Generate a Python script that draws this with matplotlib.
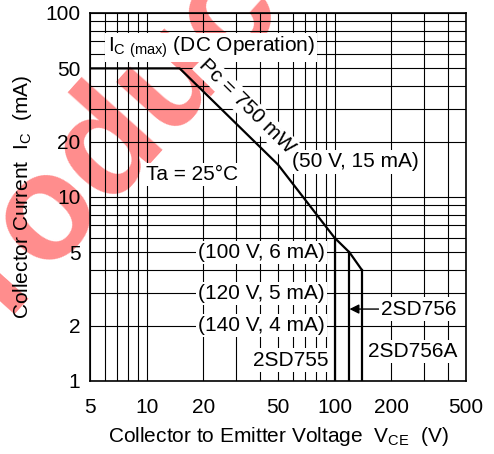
# Safe operating area chart (2SD755 / 2SD756 / 2SD756A)

import matplotlib
matplotlib.use("Agg")
import matplotlib.pyplot as plt
from matplotlib.ticker import LogLocator, NullFormatter

plt.rcParams["font.family"] = ["Liberation Sans", "DejaVu Sans"]
plt.rcParams["mathtext.default"] = "regular"

# Outline of the safe operating area (V, mA)
vce = [5, 15, 50, 100, 120, 140]
ic = [50, 50, 15, 6, 5, 4]

# Vceo limit of each part
vce_max = [100, 120, 140]
ic_at_max = [6, 5, 4]
corner_label_y = [5, 3, 2]

x_ticks = [5, 10, 20, 50, 100, 200, 500]
y_ticks = [1, 2, 5, 10, 20, 50, 100]

fig = plt.figure(figsize=(4.94, 4.54), dpi=100)
ax = fig.add_axes([0.1822, 0.1608, 0.7611, 0.8106])
ax.patch.set_facecolor("none")

# watermark behind everything
fig.text(0.20, 0.667, "Product", fontsize=108, fontweight="bold", color="red",
         alpha=0.45, rotation=48, ha="center", va="center", zorder=-1)

ax.set_xscale("log")
ax.set_yscale("log")
ax.set_xlim(5, 500)
ax.set_ylim(1, 100)

ax.set_xticks(x_ticks)
ax.set_xticklabels([str(t) for t in x_ticks])
ax.set_yticks(y_ticks)
ax.set_yticklabels([str(t) for t in y_ticks])
ax.xaxis.set_minor_locator(LogLocator(base=10, subs=range(2, 10)))
ax.yaxis.set_minor_locator(LogLocator(base=10, subs=range(2, 10)))
ax.xaxis.set_minor_formatter(NullFormatter())
ax.yaxis.set_minor_formatter(NullFormatter())
ax.tick_params(which="both", length=0, labelsize=15)
ax.tick_params(axis="x", pad=12)
ax.tick_params(axis="y", pad=7)
ax.grid(True, which="both", color="black", linewidth=0.8)
ax.set_axisbelow(True)
for s in ax.spines.values():
    s.set_linewidth(1.2)

# SOA curve and vertical voltage limits
ax.plot(vce, ic, color="black", linewidth=1.6, zorder=4)
for v, i in zip(vce_max, ic_at_max):
    ax.plot([v, v], [i, 1], color="black", linewidth=1.6, zorder=4)

box = dict(facecolor="white", edgecolor="none", pad=1.5)

ax.text(6.2, 65, r"$I_{C\ (max)}$ (DC Operation)", fontsize=15,
        ha="left", va="center", bbox=box, zorder=5)
ax.text(34, 31, "Pc = 750 mW", fontsize=15, rotation=-44.5,
        rotation_mode="anchor", ha="center", va="center", bbox=box, zorder=5)
ax.text(59, 15.5, "(50 V, 15 mA)", fontsize=15, ha="left", va="center",
        bbox=box, zorder=5)
ax.text(9.9, 13.2, "Ta = 25°C", fontsize=15, ha="left", va="center",
        bbox=box, zorder=5)

for v, i, yl in zip(vce_max, ic_at_max, corner_label_y):
    ax.text(89, yl, f"({v} V, {i} mA)", fontsize=15, ha="right",
            va="center", bbox=box, zorder=5)

ax.text(93, 1.3, "2SD755", fontsize=15, ha="right", va="center",
        bbox=box, zorder=5)
ax.annotate("2SD756", xy=(120, 2.46), xytext=(176, 2.46), fontsize=15,
            ha="left", va="center", bbox=box, zorder=5,
            arrowprops=dict(arrowstyle="-|>", color="black", lw=1.0,
                            mutation_scale=14, shrinkA=0, shrinkB=0))
ax.text(151, 1.44, "2SD756A", fontsize=15, ha="left", va="center",
        bbox=box, zorder=5)

ax.set_xlabel(r"Collector to Emitter Voltage  $V_{CE}$  (V)", fontsize=15,
              labelpad=6)
ax.set_ylabel(r"Collector Current  $I_C$  (mA)", fontsize=15, labelpad=8)

fig.savefig("out.png", dpi=100)
